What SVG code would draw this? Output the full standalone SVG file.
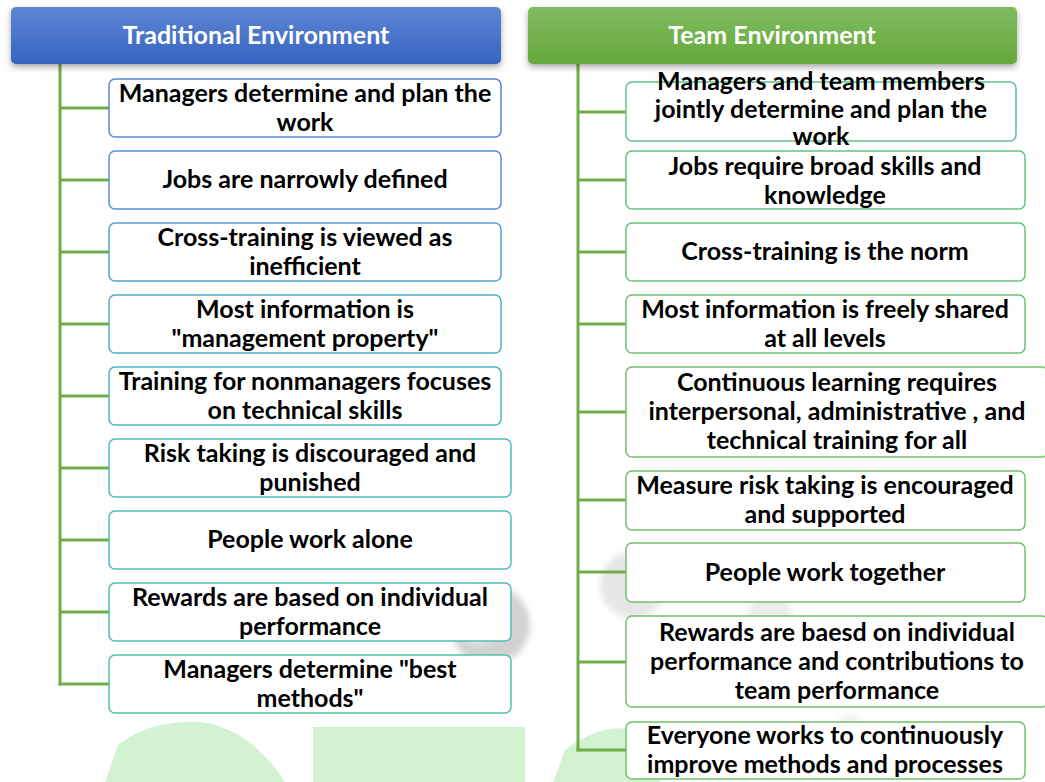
<svg xmlns="http://www.w3.org/2000/svg" width="1045" height="782" viewBox="0 0 1045 782">
  <defs>
    <linearGradient id="gradBlue" x1="0" y1="0" x2="0" y2="1">
      <stop offset="0" stop-color="#5d86d4"/>
      <stop offset="1" stop-color="#3763c1"/>
    </linearGradient>
    <linearGradient id="gradGreen" x1="0" y1="0" x2="0" y2="1">
      <stop offset="0" stop-color="#80bb60"/>
      <stop offset="1" stop-color="#66a83b"/>
    </linearGradient>
    <filter id="shadow" x="-5%" y="-20%" width="110%" height="160%">
      <feDropShadow dx="0" dy="3" stdDeviation="3" flood-color="#000" flood-opacity="0.35"/>
    </filter>
    <filter id="soft" x="-50%" y="-50%" width="200%" height="200%">
      <feGaussianBlur stdDeviation="3"/>
    </filter>
  </defs>
  <style>
    .hdr-text { font-family: Lato, "Liberation Sans", sans-serif; font-weight: bold; font-size: 25px; fill: #ffffff; }
    .box { fill: #ffffff; stroke-width: 1.5; }
    .lbl { font-family: Lato, "Liberation Sans", sans-serif; font-weight: bold; font-size: 25px; fill: #000000; }
    .conn { stroke: #70ad47; stroke-width: 3; fill: none; }
  </style>

  <rect width="1045" height="782" fill="#ffffff"/>

  <!-- faint background marks -->
  <g id="background-marks">
    <path d="M105,782 L118,745 Q150,720 200,722 Q250,728 285,782 Z" fill="#d2f2d2"/>
    <rect x="313" y="727" width="212" height="55" fill="#d2f2d2"/>
    <path d="M553,782 L565,750 Q600,722 640,730 L660,782 Z" fill="#d2f2d2"/>
    <circle cx="490" cy="625" r="40" fill="#d2d2d2" filter="url(#soft)"/>
    <circle cx="478" cy="615" r="28" fill="#f2f2f2" filter="url(#soft)"/>
    <circle cx="633" cy="585" r="33" fill="#e6e6e6" filter="url(#soft)"/>
    <circle cx="770" cy="615" r="22" fill="#ececec" filter="url(#soft)"/>
    <circle cx="850" cy="730" r="14" fill="#eeeeee" filter="url(#soft)"/>
  </g>

  <!-- connectors -->
  <g id="connectors">
    <line class="conn" x1="60" y1="64" x2="60" y2="685.5"/>
    <line class="conn" x1="60" y1="108" x2="109" y2="108"/>
    <line class="conn" x1="60" y1="180" x2="109" y2="180"/>
    <line class="conn" x1="60" y1="252" x2="109" y2="252"/>
    <line class="conn" x1="60" y1="324" x2="109" y2="324"/>
    <line class="conn" x1="60" y1="396" x2="109" y2="396"/>
    <line class="conn" x1="60" y1="468" x2="109" y2="468"/>
    <line class="conn" x1="60" y1="540" x2="109" y2="540"/>
    <line class="conn" x1="60" y1="612" x2="109" y2="612"/>
    <line class="conn" x1="58.5" y1="684" x2="109" y2="684"/>

    <line class="conn" x1="578" y1="64" x2="578" y2="751.5"/>
    <line class="conn" x1="578" y1="112" x2="626" y2="112"/>
    <line class="conn" x1="578" y1="180" x2="626" y2="180"/>
    <line class="conn" x1="578" y1="252" x2="626" y2="252"/>
    <line class="conn" x1="578" y1="324" x2="626" y2="324"/>
    <line class="conn" x1="578" y1="412" x2="626" y2="412"/>
    <line class="conn" x1="578" y1="500" x2="626" y2="500"/>
    <line class="conn" x1="578" y1="572" x2="626" y2="572"/>
    <line class="conn" x1="578" y1="662" x2="626" y2="662"/>
    <line class="conn" x1="576.5" y1="750" x2="626" y2="750"/>
  </g>

  <!-- column headers -->
  <g id="header-traditional">
    <rect x="11" y="7" width="490" height="57" rx="5" fill="url(#gradBlue)" filter="url(#shadow)"/>
    <text class="hdr-text" x="256" y="43.5" text-anchor="middle">Traditional Environment</text>
  </g>
  <g id="header-team">
    <rect x="528" y="7" width="489" height="57" rx="5" fill="url(#gradGreen)" filter="url(#shadow)"/>
    <text class="hdr-text" x="772" y="43.5" text-anchor="middle">Team Environment</text>
  </g>

  <!-- traditional environment items -->
  <g id="trad-1">
    <rect class="box" x="109" y="79" width="392" height="58" rx="6" stroke="#5a86d0"/>
    <text class="lbl" text-anchor="middle"><tspan x="305" y="101.5">Managers determine and plan the</tspan><tspan x="305" y="130.5">work</tspan></text>
  </g>
  <g id="trad-2">
    <rect class="box" x="109" y="151" width="392" height="58" rx="6" stroke="#5590d2"/>
    <text class="lbl" text-anchor="middle" x="305" y="188">Jobs are narrowly defined</text>
  </g>
  <g id="trad-3">
    <rect class="box" x="109" y="223" width="392" height="58" rx="6" stroke="#55a0d0"/>
    <text class="lbl" text-anchor="middle"><tspan x="305" y="245.5">Cross-training is viewed as</tspan><tspan x="305" y="274.5">inefficient</tspan></text>
  </g>
  <g id="trad-4">
    <rect class="box" x="109" y="295" width="392" height="58" rx="6" stroke="#50accc"/>
    <text class="lbl" text-anchor="middle"><tspan x="305" y="317.5">Most information is</tspan><tspan x="305" y="346.5">"management property"</tspan></text>
  </g>
  <g id="trad-5">
    <rect class="box" x="109" y="367" width="392" height="58" rx="6" stroke="#4db4c8"/>
    <text class="lbl" text-anchor="middle"><tspan x="305" y="389.5">Training for nonmanagers focuses</tspan><tspan x="305" y="418.5">on technical skills</tspan></text>
  </g>
  <g id="trad-6">
    <rect class="box" x="109" y="439" width="402" height="58" rx="6" stroke="#4cbec0"/>
    <text class="lbl" text-anchor="middle"><tspan x="310" y="461.5">Risk taking is discouraged and</tspan><tspan x="310" y="490.5">punished</tspan></text>
  </g>
  <g id="trad-7">
    <rect class="box" x="109" y="511" width="402" height="58" rx="6" stroke="#4bc0b8"/>
    <text class="lbl" text-anchor="middle" x="310" y="548">People work alone</text>
  </g>
  <g id="trad-8">
    <rect class="box" x="109" y="583" width="402" height="58" rx="6" stroke="#4bc2ae"/>
    <text class="lbl" text-anchor="middle"><tspan x="310" y="605.5">Rewards are based on individual</tspan><tspan x="310" y="634.5">performance</tspan></text>
  </g>
  <g id="trad-9">
    <rect class="box" x="109" y="655" width="402" height="58" rx="6" stroke="#4cc4a6"/>
    <text class="lbl" text-anchor="middle"><tspan x="310" y="677.5">Managers determine "best</tspan><tspan x="310" y="706.5">methods"</tspan></text>
  </g>

  <!-- team environment items -->
  <g id="team-1">
    <rect class="box" x="626" y="82" width="390" height="59" rx="6" stroke="#60c28e"/>
    <text class="lbl" text-anchor="middle"><tspan x="821" y="89.5">Managers and team members</tspan><tspan x="821" y="117.5">jointly determine and plan the</tspan><tspan x="821" y="145">work</tspan></text>
  </g>
  <g id="team-2">
    <rect class="box" x="626" y="151" width="399" height="58" rx="6" stroke="#66c282"/>
    <text class="lbl" text-anchor="middle"><tspan x="825" y="175">Jobs require broad skills and</tspan><tspan x="825" y="203.5">knowledge</tspan></text>
  </g>
  <g id="team-3">
    <rect class="box" x="626" y="223" width="399" height="58" rx="6" stroke="#6ac27a"/>
    <text class="lbl" text-anchor="middle" x="825" y="260">Cross-training is the norm</text>
  </g>
  <g id="team-4">
    <rect class="box" x="626" y="295" width="399" height="58" rx="6" stroke="#6ec172"/>
    <text class="lbl" text-anchor="middle"><tspan x="825" y="317.5">Most information is freely shared</tspan><tspan x="825" y="346.5">at all levels</tspan></text>
  </g>
  <g id="team-5">
    <rect class="box" x="626" y="367" width="422" height="90" rx="6" stroke="#72c068"/>
    <text class="lbl" text-anchor="middle"><tspan x="837" y="391">Continuous learning requires</tspan><tspan x="837" y="420">interpersonal, administrative , and</tspan><tspan x="837" y="449">technical training for all</tspan></text>
  </g>
  <g id="team-6">
    <rect class="box" x="626" y="471" width="399" height="59" rx="6" stroke="#72c068"/>
    <text class="lbl" text-anchor="middle"><tspan x="825" y="494">Measure risk taking is encouraged</tspan><tspan x="825" y="523">and supported</tspan></text>
  </g>
  <g id="team-7">
    <rect class="box" x="626" y="543" width="399" height="59" rx="6" stroke="#72c068"/>
    <text class="lbl" text-anchor="middle" x="825" y="580.5">People work together</text>
  </g>
  <g id="team-8">
    <rect class="box" x="626" y="616" width="422" height="91" rx="6" stroke="#72c068"/>
    <text class="lbl" text-anchor="middle"><tspan x="837" y="640.5">Rewards are baesd on individual</tspan><tspan x="837" y="669.5">performance and contributions to</tspan><tspan x="837" y="698.5">team performance</tspan></text>
  </g>
  <g id="team-9">
    <rect class="box" x="626" y="722" width="399" height="57" rx="6" stroke="#72c068"/>
    <text class="lbl" text-anchor="middle"><tspan x="825" y="744">Everyone works to continuously</tspan><tspan x="825" y="773">improve methods and processes</tspan></text>
  </g>
</svg>
